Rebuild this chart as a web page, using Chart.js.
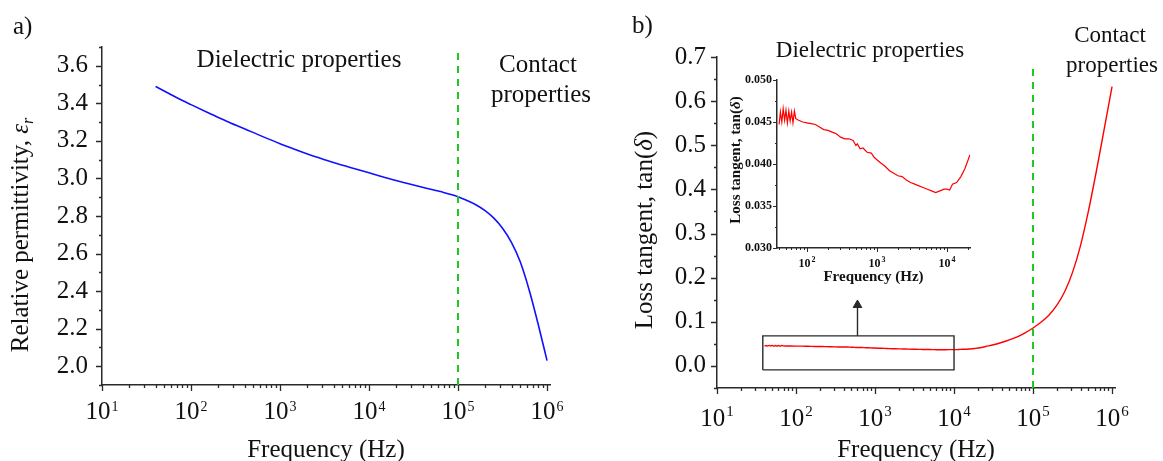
<!DOCTYPE html>
<html>
<head>
<meta charset="utf-8">
<title>Permittivity and loss tangent vs frequency</title>
<script src="https://cdn.jsdelivr.net/npm/chart.js@4.4.1/dist/chart.umd.min.js"></script>
<style>
  html, body { margin: 0; padding: 0; background: #fff; }
  #page { position: relative; width: 1163px; height: 461px; overflow: hidden; }
  #page canvas { position: absolute; }
</style>
</head>
<body>
<div id="page">
  <canvas id="chartA" width="600" height="461" style="left:0;top:0"></canvas>
  <canvas id="chartB" width="563" height="461" style="left:600px;top:0"></canvas>
  <canvas id="chartInset" width="290" height="250" style="left:700px;top:40px"></canvas>
</div>
<script>
// a) relative permittivity
var freqA = [40, 50, 63, 79, 100, 158, 251, 398, 631, 1000, 1585, 2512, 3981, 6310, 1e4,
  15850, 25120, 39810, 63100, 1e5, 125900, 158500, 199500, 251200, 316200, 398100,
  501200, 631000, 794300, 1e6];
var epsA = [3.49, 3.466, 3.44, 3.416, 3.393, 3.349, 3.305, 3.265, 3.224, 3.185, 3.149,
  3.115, 3.085, 3.057, 3.030, 3.002, 2.977, 2.953, 2.930, 2.903, 2.883, 2.860, 2.830,
  2.790, 2.735, 2.660, 2.555, 2.405, 2.225, 2.03];

// b) loss tangent, low part (also the inset)
var freqLow = [40, 41.7, 43.7, 45.7, 47.9, 50.1, 52.5, 55.0, 57.5, 60.3, 63.1, 66.1, 69.2,
  75.9, 87.1, 100, 115, 132, 151, 174, 200, 229, 263, 302, 347, 398, 457, 501, 525, 575,
  631, 724, 832, 912, 1000, 1148, 1318, 1514, 1738, 1995, 2291, 2630, 3020, 3467, 3981,
  4571, 5248, 6026, 6918, 7943, 9120, 10000, 10960, 12020, 13800, 15850, 18200, 21380];
var tanLow = [0.0447, 0.0462, 0.0450, 0.0466, 0.0452, 0.0464, 0.0449, 0.0463, 0.0451,
  0.0462, 0.0449, 0.0463, 0.0454, 0.0452, 0.0450, 0.0449, 0.0448, 0.0447, 0.0444, 0.0441,
  0.0440, 0.0438, 0.0436, 0.0432, 0.0430, 0.0430, 0.0428, 0.0422, 0.0424, 0.0418, 0.0419,
  0.0414, 0.0413, 0.0408, 0.0405, 0.0401, 0.0397, 0.0392, 0.0389, 0.0386, 0.0385, 0.0381,
  0.0378, 0.0376, 0.0374, 0.0372, 0.0370, 0.0368, 0.0366, 0.0368, 0.0370, 0.0370, 0.0369,
  0.0376, 0.0378, 0.0385, 0.0395, 0.0411];
// b) loss tangent, contact region
var freqHigh = [25120, 31620, 39810, 50120, 63100, 79430, 1e5, 125900, 158500, 199500,
  251200, 316200, 398100, 501200, 631000, 794300, 1e6];
var tanHigh = [0.044, 0.048, 0.053, 0.059, 0.066, 0.075, 0.086, 0.099, 0.115, 0.137,
  0.168, 0.212, 0.272, 0.350, 0.440, 0.536, 0.633];

var boundaryFreq = 1e5;
var yRangeA = [1.9, 3.7];
var yRangeB = [-0.05, 0.7];
var boundaryTanB = [-0.05, 0.686];
var yTicksA = [2.0, 2.2, 2.4, 2.6, 2.8, 3.0, 3.2, 3.4, 3.6];
var yTicksB = [0.0, 0.1, 0.2, 0.3, 0.4, 0.5, 0.6, 0.7];
var yTicksInset = [0.030, 0.035, 0.040, 0.045, 0.050];
var boxFreq = [38, 1e4];
var boxTan = [-0.009, 0.068];
var arrowFreq = 600;
var arrowTan = [0.068, 0.138];

var axisColor = '#2a2a2a';
var serif = "'Liberation Serif', 'Times New Roman', serif";
Chart.defaults.font.family = serif;
Chart.defaults.color = '#111';

function pts(xs, ys) {
  return xs.map(function(x, i) { return { x: x, y: ys[i] }; });
}

// tick marks, 10^n labels, rotated y titles and free text
var decorPlugin = {
  id: 'decor',
  afterDraw: function(chart, args, o) {
    var ctx = chart.ctx, xs = chart.scales.x, ys = chart.scales.y, area = chart.chartArea;
    ctx.save();
    ctx.strokeStyle = axisColor;
    ctx.lineWidth = o.tickWidth;
    ctx.beginPath();
    var e0 = Math.floor(Math.log10(xs.min)), e1 = Math.ceil(Math.log10(xs.max));
    for (var e = e0; e <= e1; e++) {
      for (var m = 1; m < 10; m++) {
        var v = m * Math.pow(10, e);
        if (v < xs.min * 0.999 || v > xs.max * 1.001) continue;
        var px = Math.round(xs.getPixelForValue(v)) + 0.5;
        ctx.moveTo(px, area.bottom);
        ctx.lineTo(px, area.bottom + (m === 1 ? o.major : o.minor));
      }
    }
    var step = (o.yTicks[1] - o.yTicks[0]) / 2;
    for (var k = -4; k < 60; k++) {
      var yv = o.yTicks[0] + k * step;
      if (yv < ys.min - step * 0.01 || yv > ys.max + step * 0.01) continue;
      var py = Math.round(ys.getPixelForValue(yv)) + 0.5;
      ctx.moveTo(area.left, py);
      ctx.lineTo(area.left - (k % 2 === 0 ? o.major : o.minor), py);
    }
    ctx.stroke();

    // decade labels with superscript exponent
    ctx.fillStyle = '#111';
    ctx.textBaseline = 'alphabetic';
    ctx.textAlign = 'left';
    var bw = o.bold ? 'bold ' : '';
    for (var d = Math.ceil(Math.log10(xs.min) - 1e-9); d <= Math.floor(Math.log10(xs.max) + 1e-9); d++) {
      var cx = xs.getPixelForValue(Math.pow(10, d));
      ctx.font = bw + o.xFont + 'px ' + serif;
      var w1 = ctx.measureText('10').width;
      ctx.font = bw + o.supFont + 'px ' + serif;
      var w2 = ctx.measureText(String(d)).width;
      var x0 = cx - (w1 + 1 + w2) / 2, base = area.bottom + o.xBase;
      ctx.font = bw + o.xFont + 'px ' + serif;
      ctx.fillText('10', x0, base);
      ctx.font = bw + o.supFont + 'px ' + serif;
      ctx.fillText(String(d), x0 + w1 + 1, base - o.supRaise);
    }

    // rotated y title built from styled parts
    var t = o.yTitle;
    ctx.save();
    ctx.translate(t.x, t.y);
    ctx.rotate(-Math.PI / 2);
    var total = 0;
    t.parts.forEach(function(p) { ctx.font = p[1] + ' ' + serif; total += ctx.measureText(p[0]).width; });
    var tx = -total / 2;
    t.parts.forEach(function(p) {
      ctx.font = p[1] + ' ' + serif;
      ctx.fillText(p[0], tx, p[2] || 0);
      tx += ctx.measureText(p[0]).width;
    });
    ctx.restore();

    (o.texts || []).forEach(function(s) {
      ctx.font = s[3] + ' ' + serif;
      ctx.textAlign = s[4] || 'center';
      ctx.fillText(s[0], s[1], s[2]);
    });
    ctx.restore();
  }
};
Chart.register(decorPlugin);

function xAxis(min, max, height, titleSize, titlePad, bold) {
  return {
    type: 'logarithmic', min: min, max: max,
    afterFit: function(s) { s.height = height; },
    grid: { display: false, drawTicks: false },
    border: { display: true, color: axisColor, width: 1.5 },
    ticks: { display: false },
    title: { display: true, text: 'Frequency (Hz)', color: '#111',
      font: { size: titleSize, weight: bold ? 'bold' : 'normal' },
      padding: { top: 0, bottom: titlePad } }
  };
}

function yAxis(range, ticks, width, size, pad, digits, bold) {
  return {
    type: 'linear', min: range[0], max: range[1],
    afterFit: function(s) { s.width = width; },
    afterBuildTicks: function(s) { s.ticks = ticks.map(function(v) { return { value: v }; }); },
    grid: { display: false, drawTicks: false },
    border: { display: true, color: axisColor, width: 1.5 },
    ticks: { autoSkip: false, padding: pad, color: '#111',
      font: { size: size, weight: bold ? 'bold' : 'normal' },
      callback: function(v) { return Number(v).toFixed(digits); } }
  };
}

function baseOptions(padding, scales, decor) {
  return {
    responsive: false, animation: false, devicePixelRatio: 1, events: [],
    layout: { padding: padding },
    scales: scales,
    plugins: { legend: { display: false }, tooltip: { enabled: false }, decor: decor }
  };
}

// panel a
new Chart(document.getElementById('chartA'), {
  type: 'scatter',
  data: { datasets: [
    { data: pts([boundaryFreq, boundaryFreq], yRangeA), showLine: true, borderColor: '#1ec81e',
      borderWidth: 2, borderDash: [7, 6], pointRadius: 0 },
    { data: pts(freqA, epsA), showLine: true, borderColor: '#1010ff', borderWidth: 1.6,
      pointRadius: 0, cubicInterpolationMode: 'monotone' }
  ] },
  options: baseOptions({ left: 0, right: 50, top: 47, bottom: 0 }, {
    x: xAxis(10, 1.08e6, 76, 25, -4, false),
    y: yAxis(yRangeA, yTicksA, 102, 25, 14, 1, false)
  }, {
    major: 6, minor: 3, tickWidth: 1.3, yTicks: yTicksA,
    xFont: 25, supFont: 14, xBase: 34, supRaise: 8, bold: false,
    yTitle: { x: 28, y: 235, parts: [['Relative permittivity, ', '25px'], ['\u03b5', 'italic 25px'], ['r', 'italic 16px', 5]] },
    texts: [
      ['a)', 13, 34, '25px', 'left'],
      ['Dielectric properties', 299, 67, '25px'],
      ['Contact', 538, 72, '25px'],
      ['properties', 541, 102, '25px']
    ]
  })
});

// panel b
var boxPts = pts([boxFreq[0], boxFreq[1], boxFreq[1], boxFreq[0], boxFreq[0]],
                 [boxTan[0], boxTan[0], boxTan[1], boxTan[1], boxTan[0]]);
new Chart(document.getElementById('chartB'), {
  type: 'scatter',
  data: { datasets: [
    { data: pts([boundaryFreq, boundaryFreq], boundaryTanB), showLine: true, borderColor: '#1ec81e',
      borderWidth: 2, borderDash: [7, 6], pointRadius: 0 },
    { data: boxPts, showLine: true, borderColor: axisColor, borderWidth: 1.4, pointRadius: 0,
      borderJoinStyle: 'miter' },
    { data: pts([arrowFreq, arrowFreq], arrowTan), showLine: true, borderColor: axisColor,
      borderWidth: 1.4, pointRadius: [0, 5], pointStyle: 'triangle',
      pointBackgroundColor: axisColor, pointBorderColor: axisColor, pointBorderWidth: 1 },
    { data: pts(freqLow.concat(freqHigh), tanLow.concat(tanHigh)), showLine: true,
      borderColor: '#ff0000', borderWidth: 1.4, pointRadius: 0, cubicInterpolationMode: 'monotone' }
  ] },
  options: baseOptions({ left: 0, right: 48, top: 57, bottom: 0 }, {
    x: xAxis(10, 1.09e6, 73, 25, -4, false),
    y: yAxis(yRangeB, yTicksB, 117, 25, 11, 1, false)
  }, {
    major: 6, minor: 3, tickWidth: 1.3, yTicks: yTicksB,
    xFont: 25, supFont: 15, xBase: 38, supRaise: 10, bold: false,
    yTitle: { x: 52, y: 230, parts: [['Loss tangent, tan(', '25px'], ['\u03b4', 'italic 25px'], [')', '25px']] },
    texts: [
      ['b)', 32, 33, '25px', 'left'],
      ['Dielectric properties', 270, 57, '23px'],
      ['Contact', 510, 42, '23px'],
      ['properties', 512, 72, '23px']
    ]
  })
});

// inset of b
new Chart(document.getElementById('chartInset'), {
  type: 'scatter',
  data: { datasets: [
    { data: pts(freqLow, tanLow), showLine: true, borderColor: '#ff0000', borderWidth: 1.2,
      pointRadius: 0, tension: 0 }
  ] },
  options: baseOptions({ left: 0, right: 20, top: 40, bottom: 0 }, {
    x: xAxis(37.3, 21400, 42, 15, 4, true),
    y: yAxis([0.030, 0.050], yTicksInset, 77, 12, 5, 3, true)
  }, {
    major: 4, minor: 2, tickWidth: 1, yTicks: yTicksInset,
    xFont: 12, supFont: 8, xBase: 19, supRaise: 5, bold: true,
    yTitle: { x: 40, y: 120, parts: [['Loss tangent, tan(', 'bold 15px'], ['\u03b4', 'bold italic 15px'], [')', 'bold 15px']] },
    texts: []
  })
});
</script>
</body>
</html>
